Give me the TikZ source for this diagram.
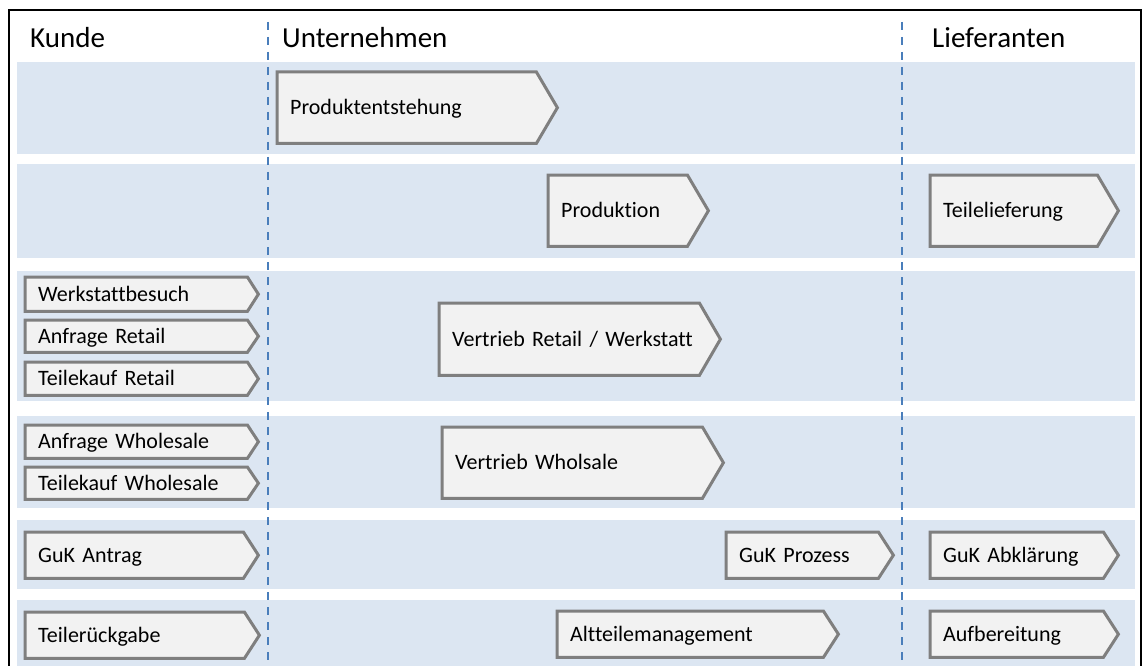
\documentclass[tikz,border=0pt]{standalone}
\usepackage{fontspec}
\setmainfont{Carlito}[Ligatures=NoCommon]
\usetikzlibrary{calc}
\pgfdeclarelayer{lanes}
\pgfdeclarelayer{shapes}
\pgfsetlayers{lanes,shapes,main}

\definecolor{lanefill}{HTML}{DCE6F2}
\definecolor{chevfill}{HTML}{F2F2F2}
\definecolor{chevedge}{HTML}{7F7F7F}
\definecolor{divblue}{HTML}{4A7EBB}

\tikzset{
  lane/.style={fill=lanefill, draw=none},
  steptext/.style={inner xsep=13pt, inner ysep=0pt, align=left,
    text height=14.2pt, text depth=0pt, font=\fontsize{22}{24}\selectfont},
  chevline/.style={fill=chevfill, draw=chevedge, line width=3pt, line join=miter},
  header/.style={anchor=base west, inner sep=0pt, font=\fontsize{29}{32}\selectfont},
  divider/.style={draw=divblue, line width=2.4pt, dash pattern=on 8pt off 7pt},
}

% process step: name, left, top, body right, bottom, tip length, label
\newcommand\prozess[7]{%
  \pgfmathsetmacro\chw{#4-#2-26}%
  \pgfmathsetmacro\chh{#5-#3}%
  \node[steptext, text width=\chw pt, minimum height=\chh pt, anchor=north west] (#1) at (#2,#3) {\mbox{#7}};
  \begin{pgfonlayer}{shapes}
    \filldraw[chevline] (#1.north west) -- (#1.north east) -- ($(#1.east)+(#6pt,0)$)
      -- (#1.south east) -- (#1.south west) -- cycle;
  \end{pgfonlayer}
}

\begin{document}
\begin{tikzpicture}[x=1pt, y=-1pt]
  \useasboundingbox (0,0) rectangle (1146,666);
  \clip (0,0) rectangle (1146,666);

  % swimlanes
  \begin{pgfonlayer}{lanes}
    \fill[white] (0,0) rectangle (1146,666);
    \path[lane] (17,62) rectangle (1135,154);
    \path[lane] (17,164) rectangle (1135,258);
    \path[lane] (17,271) rectangle (1135,401);
    \path[lane] (17,416) rectangle (1135,508);
    \path[lane] (17,520) rectangle (1135,589);
    \path[lane] (17,600) rectangle (1135,690);
    \draw[divider] (268,22) -- (268,680);
    \draw[divider] (902,22) -- (902,680);
  \end{pgfonlayer}

  % outer frame
  \draw[line width=2pt] (9,10) rectangle (1141,700);

  % column headings
  \node[header] (hKunde) at (30,48) {Kunde};
  \node[header] (hUnt) at (282,48) {Unternehmen};
  \node[header] (hLief) at (932,48) {Lieferanten};

  % process steps
  \prozess{entst}{277}{72}{536}{143}{21}{Produktentstehung}
  \prozess{prod}{548}{175}{687}{246}{21}{Produktion}
  \prozess{tlief}{930}{175}{1097}{246}{21}{Teilelieferung}

  \prozess{werk}{25}{277}{247}{311}{11}{Werkstattbesuch}
  \prozess{anfr}{25}{320}{247}{352}{11}{Anfrage Retail}
  \prozess{tkr}{25}{362}{247}{395}{11}{Teilekauf Retail}
  \prozess{vret}{439}{303}{699}{375}{21}{Vertrieb Retail / Werkstatt}

  \prozess{anfw}{25}{425}{247}{458}{11}{Anfrage Wholesale}
  \prozess{tkw}{25}{467}{247}{499}{11}{Teilekauf Wholesale}
  \prozess{vwhol}{442}{427}{702}{498}{21}{Vertrieb Wholsale}

  \prozess{gukA}{25}{532}{243}{578}{15}{GuK Antrag}
  \prozess{gukP}{726}{532}{878}{578}{15}{GuK Prozess}
  \prozess{gukK}{930}{532}{1103}{578}{15}{GuK Abklärung}

  \prozess{trueck}{25}{612}{244}{658}{15}{Teilerückgabe}
  \prozess{altt}{557}{611}{823}{657}{15}{Altteilemanagement}
  \prozess{aufb}{930}{611}{1103}{657}{15}{Aufbereitung}
\end{tikzpicture}
\end{document}
